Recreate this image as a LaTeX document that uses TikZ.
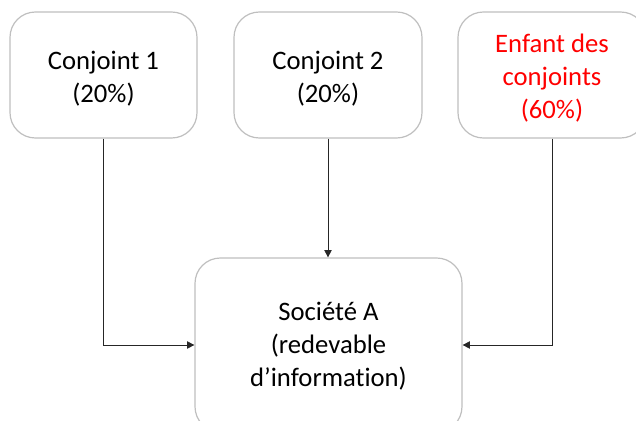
\documentclass[tikz,border=0pt]{standalone}
\usepackage{fontspec}
\setmainfont[RawFeature={-liga;-clig;-dlig}]{Carlito}
\usetikzlibrary{arrows.meta}
\definecolor{boxgrey}{RGB}{191,191,191}
\definecolor{redtxt}{RGB}{255,0,0}
\begin{document}
\begin{tikzpicture}[x=0.75pt,y=-0.75pt,
  box/.style={draw=boxgrey, line width=0.9pt, rounded corners=19pt, fill=white, inner sep=0pt},
  txt/.style={align=center, font=\fontsize{20pt}{24.75pt}\selectfont, inner sep=0pt},
  conn/.style={draw=black!85, line width=0.6pt, -{Triangle[length=5.5pt,width=5.5pt]}}]
\useasboundingbox (0,0) rectangle (636,421);
\clip (0,0) rectangle (636,421);
\node[box, minimum width=140.25pt, minimum height=94.5pt] (c1) at (103.5,75) {};
\node[box, minimum width=141pt, minimum height=94.5pt] (c2) at (328,75) {};
\node[box, minimum width=141pt, minimum height=94.5pt] (e) at (552,75) {};
\node[box, minimum width=200.25pt, minimum height=130.5pt] (s) at (328.5,345) {};
\node[txt] (c1t) at ([yshift=-2.5pt]c1.center) {Conjoint 1\\(20\%)};
\node[txt] (c2t) at ([yshift=-2.5pt]c2.center) {Conjoint 2\\(20\%)};
\node[txt, text=redtxt] (et) at ([yshift=-2.5pt]e.center) {Enfant des\\conjoints\\(60\%)};
\node[txt] (st) at ([yshift=-0.75pt]s.center) {Société A\\(redevable\\d’informat\kern0pt ion)};
\draw[conn] (c1.south) |- (s.west);
\draw[conn] (c2.south) -- (c2.south |- s.north);
\draw[conn] (e.south) |- (s.east);
\end{tikzpicture}
\end{document}
